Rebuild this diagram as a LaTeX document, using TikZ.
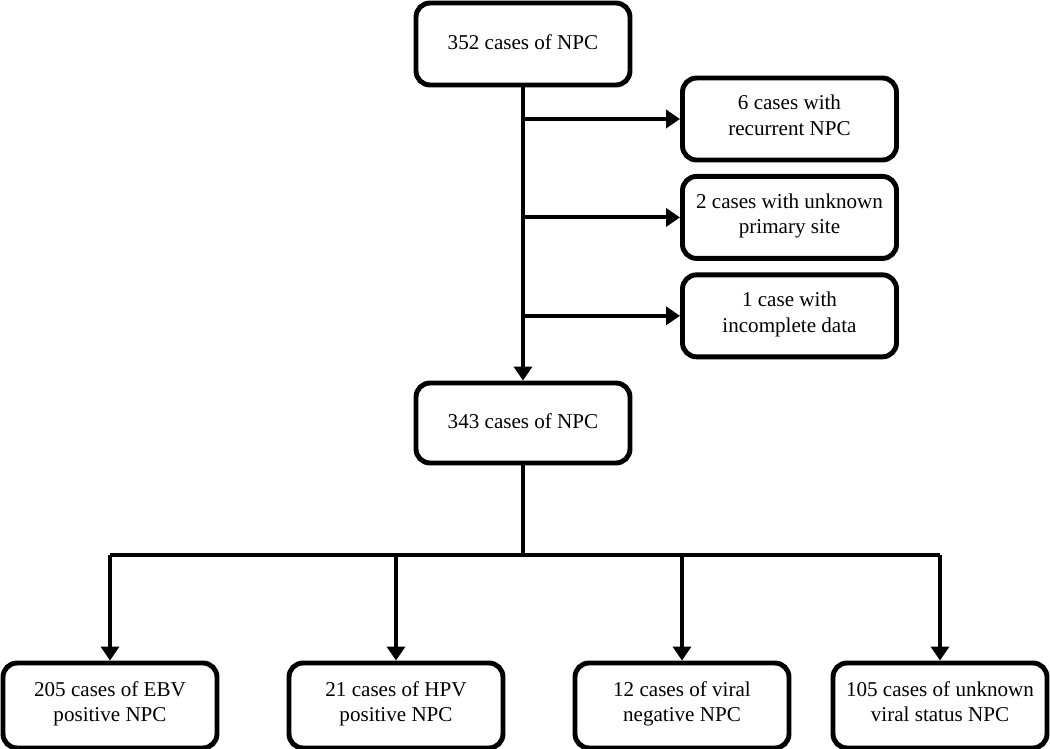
\documentclass[tikz,border=0pt]{standalone}
\usepackage{fontspec}
\setmainfont{Liberation Serif}
\usetikzlibrary{positioning,calc,arrows.meta}

\begin{document}
\begin{tikzpicture}[
    casebox/.style={rectangle, rounded corners=8pt, draw=black, line width=2.8pt, fill=white, align=center, minimum width=4.28cm, minimum height=1.64cm, font=\fontsize{12}{14.5}\selectfont, execute at begin node=\strut, execute at end node=\strut},
    groupbox/.style={casebox, minimum height=1.7cm},
    flow/.style={line width=2.3pt, draw=black},
    flowarrow/.style={flow, -{Triangle[length=0.28cm, width=0.36cm]}}
]

% page frame (1050 x 749 px, 1px = 0.02cm)
\useasboundingbox (0,0) rectangle (21,-14.98);

% Cohort
\node[casebox] (total) at (10.46, -0.88) {352 cases of NPC};

% Exclusions - stacked on the right
\node[casebox] (recurrent) at (15.79, -2.38) {6 cases with\\recurrent NPC};
\node[casebox, below=0.23cm of recurrent] (unknownsite) {2 cases with unknown\\primary site};
\node[casebox, below=0.23cm of unknownsite] (incomplete) {1 case with\\incomplete data};

% Final cohort
\node[casebox, minimum height=1.6cm] (final) at (10.46, -8.46) {343 cases of NPC};

% Viral status groups
\node[groupbox] (ebv) at (2.2, -14.11) {205 cases of EBV\\positive NPC};
\node[groupbox] (hpv) at (7.92, -14.11) {21 cases of HPV\\positive NPC};
\node[groupbox] (negative) at (13.64, -14.11) {12 cases of viral\\negative NPC};
\node[groupbox] (unknownviral) at (18.8, -14.11) {105 cases of unknown\\viral status NPC};

% Main flow and exclusion branches
\draw[flowarrow] (total.south) -- (final.north);
\draw[flowarrow] (total.south |- recurrent.west) -- (recurrent.west);
\draw[flowarrow] (total.south |- unknownsite.west) -- (unknownsite.west);
\draw[flowarrow] (total.south |- incomplete.west) -- (incomplete.west);

% Split into groups
\coordinate (split) at ($(final.south)+(0,-1.8)$);
\draw[flow] (final.south) -- (split);
\draw[flow] (ebv.north |- split) -- (unknownviral.north |- split);
\draw[flowarrow] (ebv.north |- split) -- (ebv.north);
\draw[flowarrow] (hpv.north |- split) -- (hpv.north);
\draw[flowarrow] (negative.north |- split) -- (negative.north);
\draw[flowarrow] (unknownviral.north |- split) -- (unknownviral.north);

\end{tikzpicture}
\end{document}
